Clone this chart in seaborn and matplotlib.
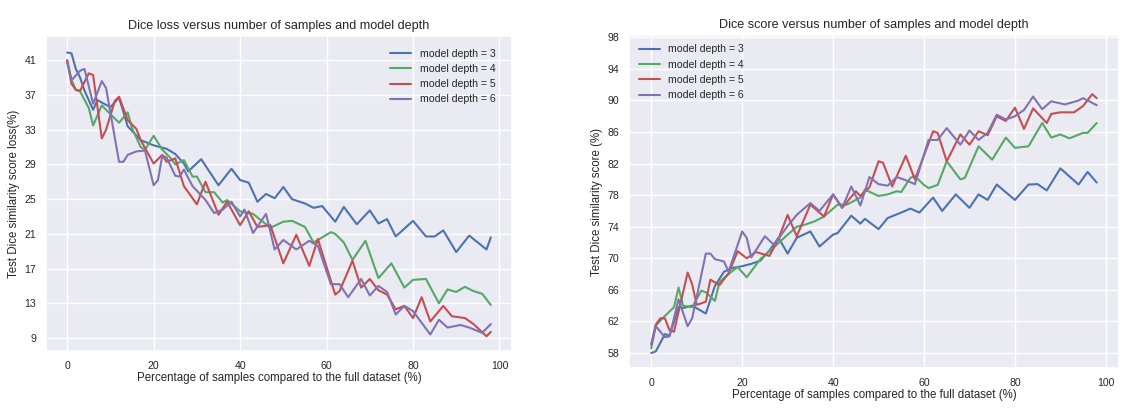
import matplotlib
matplotlib.use("Agg")
import matplotlib.pyplot as plt
import pandas as pd
import seaborn as sns

# ---------------- data: left panel (Dice loss) ----------------
loss_d3_x = [0,1,2,3,4,6,7,10,12,14,17,20,23,25,27,28,31,35,38,40,42,44,46,48,50,52,55,57,59,62,64,67,70,72,74,76,80,83,85,87,90,93,97,98]
loss_d3_y = [41.9,41.8,40.0,39.0,37.5,35.3,36.4,35.6,36.7,33.4,31.8,31.2,30.8,30.2,29.1,28.2,29.6,26.6,28.5,27.2,26.9,24.7,25.6,25.1,26.4,25.0,24.5,24.0,24.2,22.4,24.1,22.1,23.7,22.2,22.7,20.7,22.5,20.7,20.7,21.4,18.9,20.8,19.2,20.6]

loss_d4_x = [0,1,2,3,5,6,8,9,11,12,14,15,17,18,20,22,24,25,27,29,30,32,34,36,37,40,43,45,47,50,52,55,57,61,62,64,66,69,72,75,78,80,83,86,88,90,92,94,96,98]
loss_d4_y = [41.0,38.7,37.6,37.4,35.5,33.5,35.8,35.3,34.3,33.8,35.0,33.2,31.0,30.7,32.3,30.7,29.7,29.0,29.5,27.6,27.6,25.8,25.8,24.6,24.9,23.6,23.3,22.5,21.7,22.4,22.5,21.8,20.0,21.2,21.0,20.0,18.0,20.2,15.9,17.6,14.8,15.7,15.8,13.0,14.6,14.3,14.9,14.4,14.1,12.8]

loss_d5_x = [0,1,2,3,5,6,8,9,11,12,14,16,17,20,22,23,25,27,30,32,35,37,40,42,44,47,50,53,56,58,62,63,66,68,70,72,74,76,78,80,82,84,87,89,92,94,97,98]
loss_d5_y = [41.0,38.3,37.6,37.5,39.5,39.3,32.0,33.0,36.3,36.8,34.1,33.1,31.8,29.1,30.1,29.3,29.7,26.5,24.4,27.0,23.2,24.7,22.0,23.6,21.8,22.0,17.6,20.9,17.3,20.4,14.0,14.4,17.9,14.8,15.8,14.5,14.0,12.3,12.7,11.3,13.7,10.9,12.7,11.5,11.3,10.6,9.2,9.7]

loss_d6_x = [0,1,3,4,6,8,9,12,13,14,16,18,20,21,22,23,25,26,27,29,32,34,36,38,40,41,43,46,48,50,53,56,58,61,63,65,68,70,72,74,76,78,80,84,86,88,91,93,96,98]
loss_d6_y = [40.8,38.7,39.8,40.0,36.0,38.6,37.8,29.3,29.3,30.1,30.5,30.6,26.6,27.2,30.0,29.8,27.7,27.6,28.4,26.5,24.9,23.4,23.8,24.7,23.0,23.8,21.1,23.3,19.2,20.3,19.2,20.2,19.6,15.2,15.2,13.7,15.8,13.9,15.0,14.3,11.7,12.7,12.1,9.4,11.1,10.2,10.5,10.2,9.6,10.6]

# ---------------- data: right panel (Dice score) ----------------
score_d3_x = [0,1,3,4,6,7,9,12,14,16,18,20,22,24,26,28,30,32,35,37,40,41,44,46,47,50,52,55,57,59,62,64,67,70,72,74,76,80,83,85,87,90,94,96,98]
score_d3_y = [58.0,58.2,60.4,60.2,63.8,63.7,64.0,63.0,66.5,68.3,68.8,69.0,69.3,69.7,71.0,72.6,70.6,72.6,73.4,71.5,73.0,73.2,75.4,74.4,75.0,73.7,75.1,75.8,76.3,75.8,77.7,76.0,78.1,76.4,78.1,77.4,79.35,77.4,79.35,79.4,78.6,81.4,79.35,80.95,79.6]

score_d4_x = [0,1,3,5,6,7,9,11,12,14,15,17,19,21,24,27,30,32,34,36,38,41,43,46,47,50,52,54,55,57,58,60,61,63,65,68,69,72,75,78,80,83,86,88,90,92,95,96,98]
score_d4_y = [58.6,61.5,62.7,63.8,66.3,64.0,63.8,65.9,65.7,64.6,67.0,68.0,68.9,67.6,69.9,71.4,73.0,74.0,74.3,74.7,75.3,76.8,76.8,77.7,78.7,77.9,78.1,78.5,78.4,80.2,80.4,79.3,78.9,79.3,82.3,80.0,80.2,84.2,82.5,85.3,84.0,84.2,87.15,85.3,85.7,85.2,85.9,85.9,87.15]

score_d5_x = [0,1,2,3,4,5,8,9,10,12,13,15,17,19,21,23,26,28,30,32,35,38,40,42,45,46,48,50,51,53,56,58,62,63,65,68,70,72,74,76,78,80,82,84,87,88,90,93,95,97,98]
score_d5_y = [59.1,61.6,62.4,62.4,60.9,60.7,68.2,66.7,64.1,64.5,67.3,66.6,68.1,70.9,70.0,70.8,70.3,72.5,75.5,72.8,76.8,75.3,78.1,76.4,78.5,77.9,79.0,82.3,82.1,79.1,83.0,80.0,86.1,85.9,82.3,85.7,84.4,86.1,85.6,88.0,87.4,89.1,86.4,89.0,87.15,88.3,88.5,88.5,89.3,90.8,90.3]

score_d6_x = [0,1,3,4,5,6,8,9,12,13,14,16,17,20,21,22,25,27,30,32,35,37,40,42,44,46,48,50,52,54,56,58,61,63,65,68,70,72,74,76,78,80,82,84,86,88,91,94,95,98]
score_d6_y = [59.1,61.4,60.0,60.1,62.4,64.8,61.4,62.4,70.6,70.6,69.9,69.6,68.3,73.4,72.6,70.1,72.8,71.7,74.1,75.5,77.0,76.0,78.1,76.4,79.1,76.7,80.3,79.4,79.2,80.3,79.9,79.4,85.0,85.0,86.5,84.4,86.2,85.0,85.9,88.2,87.6,88.0,88.8,90.5,88.9,89.9,89.5,90.0,90.3,89.4]

depth_labels = ["model depth = 3", "model depth = 4", "model depth = 5", "model depth = 6"]
colors = ["#4C72B0", "#55A868", "#C44E52", "#8172B2"]
loss_yticks = [9, 13, 17, 21, 25, 29, 33, 37, 41]
score_yticks = [58, 62, 66, 70, 74, 78, 82, 86, 90, 94, 98]
xticks = [0, 20, 40, 60, 80, 100]


def long_frame(series):
    parts = []
    for lab, (xs, ys) in zip(depth_labels, series):
        parts.append(pd.DataFrame({"x": xs, "y": ys, "depth": lab}))
    return pd.concat(parts, ignore_index=True)


loss_df = long_frame([(loss_d3_x, loss_d3_y), (loss_d4_x, loss_d4_y),
                      (loss_d5_x, loss_d5_y), (loss_d6_x, loss_d6_y)])
score_df = long_frame([(score_d3_x, score_d3_y), (score_d4_x, score_d4_y),
                       (score_d5_x, score_d5_y), (score_d6_x, score_d6_y)])

sns.set_theme(style="darkgrid")
plt.rcParams["font.family"] = ["Liberation Sans", "DejaVu Sans"]

W, H = 1137, 417
fig = plt.figure(figsize=(W / 100, H / 100), dpi=100)
ax1 = fig.add_axes([46 / W, (H - 351) / H, 466 / W, 315 / H])
ax2 = fig.add_axes([629 / W, (H - 368) / H, 490 / W, 333 / H])

pal = dict(zip(depth_labels, colors))
for ax, df in ((ax1, loss_df), (ax2, score_df)):
    sns.lineplot(data=df, x="x", y="y", hue="depth", hue_order=depth_labels,
                 palette=pal, estimator=None, linewidth=1.5, legend=False, ax=ax)
    for line, lab in zip(ax.lines, depth_labels):
        line.set_label(lab)
    ax.set_xticks(xticks)
    ax.tick_params(labelsize=7.6, pad=1)
    ax.set_xlabel("Percentage of samples compared to the full dataset (%)", fontsize=8.3, labelpad=1)

ax1.set_yticks(loss_yticks)
ax1.set_ylim(7.5, 43.8)
ax1.set_xlim(-4.9, 102.9)
ax1.set_ylabel("Test Dice similarity score loss(%)", fontsize=8.3, labelpad=3)
ax1.set_title("Dice loss versus number of samples and model depth", fontsize=9.1, pad=5)
ax1.legend(loc="upper right", frameon=False, fontsize=7.6, handlelength=2.0,
           bbox_to_anchor=(0.985, 0.99))

ax2.set_yticks(score_yticks)
ax2.set_ylim(56.1, 98.3)
ax2.set_xlim(-4.9, 102.9)
ax2.set_ylabel("Test Dice similarity score (%)", fontsize=8.3, labelpad=3)
ax2.set_title("Dice score versus number of samples and model depth", fontsize=9.1, pad=5)
ax2.legend(loc="upper left", frameon=False, fontsize=7.6, handlelength=2.0)

fig.savefig("out.png", dpi=100)
